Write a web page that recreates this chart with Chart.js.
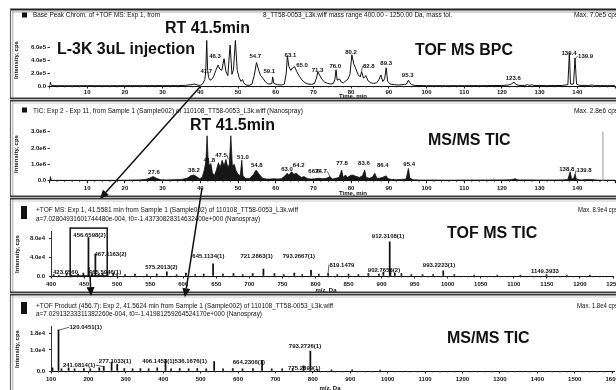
<!DOCTYPE html>
<html><head><meta charset="utf-8">
<script src="https://cdn.jsdelivr.net/npm/chart.js@4.4.1/dist/chart.umd.min.js"></script>
<style>
html,body{margin:0;padding:0;background:#fff;overflow:hidden;}
#wrap{position:relative;width:616px;height:390px;overflow:hidden;background:#fff;}
#wrap canvas{position:absolute;left:0;top:0;}
</style></head>
<body><div id="wrap">
<canvas id="c1" width="616" height="390"></canvas>
<canvas id="c2" width="616" height="390"></canvas>
<canvas id="c3" width="616" height="390"></canvas>
<canvas id="c4" width="616" height="390"></canvas>
<canvas id="ov" width="616" height="390"></canvas>
</div>
<script>
// ---------- DATA ----------
// Panel 1: Base peak chromatogram (time min, intensity in 1e5 cps)
const bpcPoints = [[0,0],[0.2,0.6],[0.5,0.05],[5,0.04],[10,0.05],[15,0.04],[20,0.05],[25,0.05],[30,0.06],[34,0.06],[36,0.1],[37.5,0.2],[38.5,0.3],[39.3,0.15],[40,0.1],[40.6,0.3],[41.2,1.0],[41.45,2.3],[41.7,7.0],[41.95,2.4],[42.2,1.3],[42.6,0.9],[43.0,1.0],[43.5,1.4],[44.1,2.4],[44.7,3.2],[45.2,2.6],[45.7,2.4],[46.3,4.2],[46.8,2.2],[47.3,1.6],[47.9,6.3],[48.4,1.8],[48.8,2.5],[49.3,7.0],[49.8,2.4],[50.3,1.3],[50.8,0.7],[51.2,1.0],[51.6,0.4],[52.2,0.15],[53.0,0.1],[53.7,0.3],[54.3,1.6],[54.9,3.6],[55.5,2.4],[56.0,1.6],[56.6,1.2],[57.2,0.7],[57.8,0.35],[58.5,0.3],[59.0,0.4],[59.2,1.4],[59.5,0.4],[60.5,0.2],[61.5,0.15],[62.3,0.3],[62.8,2.0],[63.1,4.6],[63.5,3.0],[64.0,2.4],[64.5,2.8],[65.0,3.0],[65.6,2.2],[66.3,1.5],[67.0,0.9],[67.8,0.5],[68.6,0.3],[69.5,0.25],[70.3,0.4],[70.8,1.2],[71.2,2.2],[71.7,1.6],[72.3,1.0],[73.0,0.6],[73.8,0.4],[74.6,0.3],[75.3,0.4],[75.7,1.0],[76.0,2.5],[76.3,0.9],[76.9,1.1],[77.4,0.6],[78.0,0.5],[78.6,0.8],[79.2,1.1],[79.7,1.8],[80.2,4.8],[80.7,3.4],[81.3,2.6],[81.9,1.7],[82.4,1.4],[82.8,2.2],[83.3,1.2],[83.9,1.6],[84.5,0.8],[85.2,0.5],[86.0,0.4],[86.8,0.5],[87.4,1.0],[87.9,1.7],[88.4,0.7],[88.9,1.1],[89.3,2.8],[89.7,0.7],[90.4,0.3],[91.5,0.2],[92.5,0.15],[93.5,0.2],[94.2,0.25],[94.7,0.3],[95.2,0.9],[95.6,0.5],[96.0,0.2],[97,0.08],[100,0.05],[105,0.05],[110,0.05],[115,0.06],[120,0.08],[121.8,0.15],[122.5,0.3],[123.2,0.6],[123.7,0.25],[124.5,0.1],[126.0,0.08],[126.8,0.2],[127.3,0.08],[128.0,0.2],[128.5,0.08],[132,0.06],[136,0.08],[137.5,0.2],[137.9,5.1],[138.2,0.3],[139.0,0.3],[139.4,4.3],[139.8,0.3],[140.5,0.1],[143,0.08],[144,0.15],[144.5,0.06],[150,0.05]];
// Panel 2: MS/MS TIC (time min, intensity in 1e6 cps)
const ticPoints = [[0,0],[0.2,0.25],[0.5,0.02],[5,0.02],[10,0.02],[15,0.02],[20,0.03],[22,0.04],[24,0.05],[25.5,0.08],[26.5,0.15],[27.5,0.25],[28.3,0.15],[29.5,0.06],[31,0.05],[33,0.06],[35,0.08],[36.5,0.15],[37.5,0.3],[38.2,0.35],[39,0.25],[39.8,0.12],[40.5,0.2],[41.0,0.6],[41.5,1.2],[41.8,2.75],[42.1,1.2],[42.5,0.9],[42.8,1.05],[43.2,0.5],[43.7,0.3],[44.2,0.6],[44.8,1.1],[45.3,0.8],[45.8,1.25],[46.3,0.9],[46.8,1.3],[47.3,0.8],[47.7,1.0],[48.1,2.75],[48.5,0.9],[49.0,1.0],[49.5,0.6],[50.0,0.4],[50.6,0.3],[51.0,1.25],[51.3,0.3],[52.0,0.15],[53.0,0.12],[54.0,0.35],[54.8,0.65],[55.6,0.4],[56.5,0.15],[57.5,0.1],[58.5,0.1],[59.5,0.12],[60.5,0.1],[61.5,0.12],[62.5,0.3],[63.0,0.45],[63.5,0.35],[64.2,0.55],[64.8,0.4],[65.5,0.45],[66.2,0.3],[66.8,0.2],[67.5,0.25],[68.5,0.12],[69.5,0.1],[70.5,0.12],[71.5,0.15],[72.5,0.12],[73.5,0.15],[74.4,0.25],[75.0,0.1],[76.0,0.15],[76.8,0.2],[77.5,0.65],[77.9,0.2],[78.5,0.35],[79.0,0.2],[79.7,0.3],[80.3,0.35],[80.9,0.3],[81.5,0.25],[82.2,0.2],[83.0,0.3],[83.6,0.65],[84.0,0.2],[84.8,0.15],[85.6,0.2],[86.3,0.45],[86.8,0.15],[87.5,0.15],[88.3,0.2],[89.3,0.3],[89.8,0.12],[90.8,0.08],[92,0.06],[93.5,0.08],[94.6,0.1],[95.2,0.75],[95.6,0.15],[96.5,0.06],[98,0.04],[102,0.04],[106,0.03],[110,0.04],[115,0.04],[120,0.05],[122.5,0.06],[123.5,0.12],[124.3,0.05],[127,0.05],[130,0.04],[133,0.04],[136,0.05],[137.5,0.08],[138.1,0.55],[138.5,0.1],[139.0,0.12],[139.4,0.4],[139.8,0.08],[141,0.05],[143,0.08],[146,0.03],[150,0.03]];
// Panel 3: TOF MS spectrum (m/z, intensity in 1e4 cps)
const msMz  = [404,412,423.7,430,441,449,456.66,457.16,462,467.12,472,478,485.6,494,500,512,527,545,560,575.2,590,604,618,631,645.11,660,676,690,705,721.29,738,752,768,780,793.27,805,819.15,833,850,865,880,896,902.77,912.31,913.31,920,930,945,962,978,993.22,1010,1040,1075,1110,1149.39,1180,1215];
const msE4  = [0.3,0.2,0.5,0.3,0.4,0.6,8.2,1.8,0.5,4.6,0.4,0.6,0.7,0.5,0.3,0.3,0.4,0.3,0.4,0.9,0.3,0.6,0.3,0.4,2.6,0.4,0.5,0.3,0.5,1.5,0.5,0.3,0.6,0.3,1.2,0.4,0.5,0.3,0.4,0.3,0.5,0.4,0.8,7.3,1.5,0.6,0.5,0.3,0.3,0.3,1.1,0.3,0.2,0.2,0.2,0.3,0.2,0.2];
// Panel 4: product ion spectrum (m/z, intensity in 1e4 cps)
const prodMz = [104,120.05,128,147,163,188,205,229,241.08,262,277.1,296,318,339,361,384,406.15,421,444,468,491,515,536.17,560,586,612,640,664.23,690,718,746,775.29,793.27,812,850,905,980];
const prodE4 = [0.15,1.95,0.1,0.15,0.1,0.12,0.1,0.15,0.22,0.42,0.32,0.12,0.1,0.12,0.1,0.15,0.55,0.1,0.12,0.1,0.12,0.1,0.45,0.1,0.12,0.1,0.12,0.5,0.1,0.1,0.12,0.25,0.95,0.08,0.06,0.05,0.04];
// Tick values
const timeTicks = [0,10,20,30,40,50,60,70,80,90,100,110,120,130,140,150];
const p3XTicks = [400,450,500,550,600,650,700,750,800,850,900,950,1000,1050,1100,1150,1200,1250];
const p4XTicks = [100,200,300,400,500,600,700,800,900,1000,1100,1200,1300,1400,1500,1600];
const p1YTicks = [0, 2e5, 4e5, 6e5];
const p2YTicks = [0, 1e6, 2e6, 3e6];
const p3YTicks = [0, 4e4, 8e4];
const p4YTicks = [0, 1.0e4, 1.8e4];
// Peak labels [text, x, y(baseline)]
const p1Labels = [["41.7",41.6,1.95e5],["46.3",43.9,4.25e5],["54.7",54.6,4.35e5],["59.1",58.3,1.95e5],["63.1",63.9,4.5e5],["65.0",67.0,3.0e5],["71.3",71.1,2.15e5],["76.0",75.8,2.75e5],["80.2",80.0,5.0e5],["82.8",84.7,2.75e5],["89.3",89.3,3.2e5],["95.3",95.0,1.4e5],["123.6",123.0,0.9e5],["139.4",137.8,4.8e5],["139.9",142.2,4.3e5]];
const p2Labels = [["27.6",27.7,0.39e6],["38.2",38.3,0.55e6],["41.8",42.4,1.16e6],["47.5",45.5,1.43e6],["51.0",51.3,1.3e6],["54.8",55.0,0.82e6],["63.0",63.0,0.61e6],["64.2",66.1,0.84e6],["66.6",70.2,0.45e6],["74.7",72.0,0.45e6],["77.8",77.6,0.96e6],["83.6",83.4,0.96e6],["86.4",88.4,0.86e6],["95.4",95.4,0.9e6],["138.8",137.2,0.59e6],["139.8",141.8,0.51e6]];
const p3Labels = [["423.6560",421.9,0.5e4],["456.6598(2)",458.2,8.4e4],["467.1163(2)",490,4.3e4],["465.5946(1)",481.7,0.45e4],["575.2013(2)",567,1.5e4],["645.1134(1)",638,3.9e4],["721.2863(1)",711,3.9e4],["793.2667(1)",775,3.9e4],["819.1479",840,2.0e4],["902.7656(2)",903.6,0.8e4],["912.3108(1)",909.7,8.0e4],["993.2223(1)",986.8,2.0e4],["1149.3933",1147,0.58e4]];
const p4Labels = [["120.0451(1)",192.8,1.98e4],["241.0814(1)",175,0.18e4],["277.1033(1)",271,0.36e4],["406.1453(1)",387,0.36e4],["536.1676(1)",473.5,0.36e4],["664.2306(1)",629,0.33e4],["793.2726(1)",779,1.07e4],["775.2899(1)",777,0.05e4]];

// ---------- CHARTS ----------
Chart.defaults.font.family = "'Liberation Sans', Arial, sans-serif";
Chart.defaults.color = '#111';
const fmtE = v => v === 0 ? '0.0' : Number(v).toExponential(1).replace('e+', 'e');

function makeChart(id, type, dataset, p) {
  return new Chart(document.getElementById(id), {
    type: type,
    data: { datasets: [dataset] },
    options: {
      responsive: false, animation: false, events: [],
      layout: { autoPadding: false, padding: { left: 10, right: 616 - p.right, top: p.top, bottom: 0 } },
      plugins: { legend: { display: false }, tooltip: { enabled: false }, title: { display: false } },
      scales: {
        x: {
          type: 'linear', min: p.xmin, max: p.xmax, offset: false,
          afterBuildTicks: s => { s.ticks = p.xticks.map(v => ({ value: v })); },
          ticks: { autoSkip: false, maxRotation: 0, minRotation: 0, padding: p.xpad,
            font: { size: 6, weight: 'bold' }, color: '#111', callback: p.xcb },
          grid: { display: true, drawOnChartArea: false, drawTicks: true, tickLength: 2.5, color: '#222', offset: false },
          border: { display: true, color: '#111', width: 1 },
          afterFit: s => { s.height = 390 - p.bottom; s.paddingLeft = 0; s.paddingRight = 0; s.paddingTop = 0; s.paddingBottom = 0; }
        },
        y: {
          type: 'linear', min: 0, max: p.ymax,
          afterBuildTicks: s => { s.ticks = p.yticks.map(v => ({ value: v })); },
          ticks: { padding: p.ypad, font: { size: 6, weight: 'bold' }, color: '#111', callback: v => fmtE(v) },
          grid: { display: true, drawOnChartArea: false, drawTicks: true, tickLength: 2, color: '#333' },
          border: { display: p.yborder, color: '#333', width: 1 },
          afterFit: s => { s.width = p.left - 10; s.paddingTop = 0; s.paddingBottom = 0; }
        }
      }
    }
  });
}

const timeCb = v => (v === 0 || v === 150) ? '' : String(v);
const c1 = makeChart('c1', 'line', {
  data: bpcPoints.map(([t, v]) => ({ x: t, y: v * 1e5 })),
  borderColor: '#111', borderWidth: 1, fill: false, tension: 0, pointRadius: 0
}, { left: 49.5, right: 615, top: 37.25, bottom: 86, xmin: 0, xmax: 150, xticks: timeTicks, xpad: 0, xcb: timeCb,
     ymax: 7.5e5, yticks: p1YTicks, ypad: 1.5, yborder: false });

const c2 = makeChart('c2', 'line', {
  data: ticPoints.map(([t, v]) => ({ x: t, y: v * 1e6 })),
  borderColor: '#111', borderWidth: 0.8, fill: 'origin', backgroundColor: '#161616', tension: 0, pointRadius: 0
}, { left: 49.5, right: 615, top: 128.4, bottom: 180.7, xmin: 0, xmax: 150, xticks: timeTicks, xpad: 1.5, xcb: timeCb,
     ymax: 3.2e6, yticks: p2YTicks, ypad: 1.5, yborder: false });

const c3 = makeChart('c3', 'bar', {
  data: msMz.map((m, i) => ({ x: m, y: msE4[i] * 1e4 })),
  backgroundColor: '#111', borderWidth: 0, barThickness: 1.1
}, { left: 51, right: 613, top: 231.4, bottom: 276, xmin: 400, xmax: 1250, xticks: p3XTicks, xpad: 2, xcb: v => String(v),
     ymax: 9.5e4, yticks: p3YTicks, ypad: 4, yborder: true });

const c4 = makeChart('c4', 'bar', {
  data: prodMz.map((m, i) => ({ x: m, y: prodE4[i] * 1e4 })),
  backgroundColor: '#111', borderWidth: 0, barThickness: 1.1
}, { left: 51, right: 614, top: 326.7, bottom: 371, xmin: 100, xmax: 1605, xticks: p4XTicks, xpad: 2, xcb: v => String(v),
     ymax: 2.1e4, yticks: p4YTicks, ypad: 4, yborder: true });

// ---------- OVERLAY (frames, texts, annotations) ----------
const ctx = document.getElementById('ov').getContext('2d');
const P = (ch, x, y) => [ch.scales.x.getPixelForValue(x), ch.scales.y.getPixelForValue(y)];
function line(x1, y1, x2, y2) { ctx.beginPath(); ctx.moveTo(x1, y1); ctx.lineTo(x2, y2); ctx.stroke(); }

// frames
ctx.save();
ctx.strokeStyle = '#222'; ctx.lineWidth = 2; line(10, 9.5, 616, 9.5);
ctx.strokeStyle = '#aaa'; ctx.lineWidth = 1; line(12, 12, 616, 12);
ctx.strokeStyle = '#666'; ctx.lineWidth = 1.2; line(10.5, 9, 10.5, 390);
ctx.strokeStyle = '#aaa'; ctx.lineWidth = 1; line(12.8, 11, 12.8, 390);
for (const y of [99.5, 197.5, 293.5]) {
  ctx.fillStyle = '#3a3a3a'; ctx.fillRect(10, y - 2, 606, 4);
  ctx.strokeStyle = '#bbb'; ctx.lineWidth = 1; line(10, y, 616, y);
  ctx.strokeStyle = '#ccc'; line(12, y + 3.5, 616, y + 3.5);
}
ctx.restore();

// black header icons
ctx.fillStyle = '#111';
ctx.fillRect(22, 12.5, 5, 5);
ctx.fillRect(22, 107.5, 5, 5);
ctx.fillRect(21, 206, 6, 13);
ctx.fillRect(21, 302, 6, 12);

function txt(t, x, y, font, align, maxW, color) {
  ctx.font = font; ctx.textAlign = align || 'left'; ctx.textBaseline = 'alphabetic';
  ctx.fillStyle = color || '#111';
  if (maxW) ctx.fillText(t, x, y, maxW); else ctx.fillText(t, x, y);
}
const hf = "6.5px 'Liberation Sans', Arial, sans-serif";
txt('Base Peak Chrom. of +TOF MS: Exp 1, from', 33, 17, hf, 'left', 127);
txt('8_TT58-0053_L3k.wiff mass range 400.00 - 1250.00 Da, mass tol.', 263, 17, hf, 'left', 189);
txt('Max. 7.0e5 cps', 618, 17, hf, 'right', 46);
txt('TIC: Exp 2 - Exp 11, from Sample 1 (Sample002) of 110108_TT58-0053_L3k.wiff (Nanospray)', 33, 112.5, hf, 'left', 270);
txt('Max. 2.8e6 cps', 618, 112.5, hf, 'right', 46);
txt('+TOF MS: Exp 1, 41.5581 min from Sample 1 (Sample002) of 110108_TT58-0053_L3k.wiff', 36, 212, hf, 'left', 262);
txt('a=7.02804931601744480e-004, t0=-1.43730828314632400e+000 (Nanospray)', 36, 220.5, hf, 'left', 224);
txt('Max. 8.9e4 cps', 618, 212, hf, 'right', 40);
txt('+TOF Product (456.7): Exp 2, 41.5624 min from Sample 1 (Sample002) of 110108_TT58-0053_L3k.wiff', 36, 307.5, hf, 'left', 299);
txt('a=7.02913233311382260e-004, t0=-1.41981259264524170e+000 (Nanospray)', 36, 316, hf, 'left', 226);
txt('Max. 1.8e4 cps', 618, 307.5, hf, 'right', 41);

// big annotation texts
const bf = "bold 16px 'Liberation Sans', Arial, sans-serif";
txt('RT 41.5min', 165, 33, bf, 'left', 85);
txt('L-3K 3uL injection', 57, 54, bf, 'left', 138);
txt('TOF MS BPC', 415, 55, bf, 'left', 98);
txt('RT 41.5min', 190, 130, bf, 'left', 85);
txt('MS/MS TIC', 428, 145, bf, 'left', 84);
txt('TOF MS TIC', 447, 238.3, bf, 'left', 91);
txt('MS/MS TIC', 447, 343, bf, 'left', 83);

// axis titles
const af = "bold 6px 'Liberation Sans', Arial, sans-serif";
txt('Time, min', 353, 97.5, af, 'center');
txt('Time, min', 353, 194.5, af, 'center');
txt('m/z, Da', 326, 292, af, 'center');
txt('m/z, Da', 330, 390, af, 'center');
function ytitle(x, y) {
  ctx.save(); ctx.translate(x, y); ctx.rotate(-Math.PI / 2);
  txt('Intensity, cps', 0, 0, af, 'center'); ctx.restore();
}
ytitle(17.5, 60); ytitle(17.5, 154); ytitle(18.5, 254); ytitle(18.5, 349);

// minor ticks
function minor(ch, step) {
  const s = ch.scales.x, b = ch.chartArea.bottom;
  ctx.strokeStyle = '#333'; ctx.lineWidth = 0.8;
  for (let v = s.min; v <= s.max + 1e-9; v += step) {
    const x = s.getPixelForValue(v); line(x, b, x, b + 1.5);
  }
}
minor(c1, 2); minor(c2, 2); minor(c3, 10); minor(c4, 20);

// peak labels
const lf = "bold 6px 'Liberation Sans', Arial, sans-serif";
function labels(ch, arr) {
  for (const [t, x, y] of arr) { const [px, py] = P(ch, x, y); txt(t, px, py, lf, 'center'); }
}
labels(c1, p1Labels); labels(c2, p2Labels); labels(c3, p3Labels); labels(c4, p4Labels);

function leader(ch, lx, ly, t, tx, ty) {
  ctx.font = lf; const w = ctx.measureText(t).width;
  const [px, py] = P(ch, lx, ly); const [qx, qy] = P(ch, tx, ty);
  const sx = qx > px ? px + w / 2 + 0.5 : px - w / 2 - 0.5;
  ctx.strokeStyle = '#222'; ctx.lineWidth = 0.7; line(sx, py - 2, qx, qy);
}
leader(c1, 84.7, 2.75e5, '82.8', 82.8, 2.2e5);
leader(c1, 142.2, 4.3e5, '139.9', 139.4, 4.2e5);
leader(c2, 45.5, 1.43e6, '47.5', 47.4, 1.3e6);
leader(c2, 72.0, 0.45e6, '74.7', 74.4, 0.25e6);
leader(c2, 141.8, 0.51e6, '139.8', 139.4, 0.38e6);
leader(c3, 840, 2.0e4, '819.1479', 819.15, 0.5e4);
leader(c4, 192.8, 1.98e4, '120.0451(1)', 120.05, 1.93e4);
leader(c4, 175, 0.18e4, '241.0814(1)', 241.08, 0.2e4);

// cursor line in TIC panel
ctx.strokeStyle = '#999'; ctx.lineWidth = 1;
{ const [x1, y1] = P(c2, 146.8, 0); const [, y2] = P(c2, 146.8, 3.0e6); line(x1, y1, x1, y2); }

// highlight box around precursor cluster
{
  const [x1, y1] = P(c3, 429, 0); const [x2, y2] = P(c3, 485, 10.2e4);
  ctx.strokeStyle = '#111'; ctx.lineWidth = 1.5; ctx.strokeRect(x1, y2, x2 - x1, y1 - y2);
}

// arrows (chart-anchored)
function arrow(chA, ax, ay, chB, bx, by) {
  const [x1, y1] = P(chA, ax, ay); const [x2, y2] = P(chB, bx, by);
  const ang = Math.atan2(y2 - y1, x2 - x1), L = 9, W = 4;
  const bxp = x2 - L * Math.cos(ang), byp = y2 - L * Math.sin(ang);
  ctx.strokeStyle = '#111'; ctx.lineWidth = 1.5; line(x1, y1, bxp, byp);
  ctx.fillStyle = '#111'; ctx.beginPath(); ctx.moveTo(x2, y2);
  ctx.lineTo(bxp + W * Math.sin(ang), byp - W * Math.cos(ang));
  ctx.lineTo(bxp - W * Math.sin(ang), byp + W * Math.cos(ang));
  ctx.closePath(); ctx.fill();
}
arrow(c1, 39.9, -0.15e5, c3, 474, 16.4e4);
arrow(c2, 40.45, -0.45e6, c4, 458, 3.5e4);
arrow(c3, 459, 0, c4, 207, 3.55e4);
</script></body></html>
